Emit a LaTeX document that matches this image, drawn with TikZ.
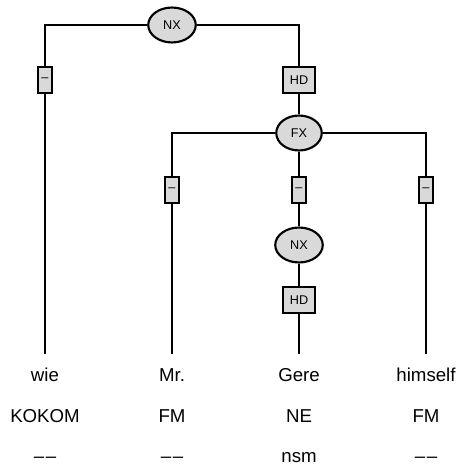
\documentclass[tikz,border=0pt]{standalone}
\usepackage{fontspec}
\setmainfont{Liberation Sans}
\usetikzlibrary{shapes.geometric}

\newcommand{\nomorph}{–\kern1.2pt–}

\begin{document}
\begin{tikzpicture}[x=0.75pt,y=-0.75pt,
  edge/.style={line width=1.2pt},
  cat/.style={draw,line width=1.6pt,ellipse,fill=black!15,inner sep=6pt,font=\fontsize{9.5}{11}\selectfont},
  func/.style={draw,line width=1.6pt,rectangle,fill=black!15,inner sep=5pt,minimum height=19.5pt,font=\fontsize{9.5}{11}\selectfont},
  dashbox/.style={func,inner sep=1pt,minimum width=11pt},
  word/.style={anchor=base,inner sep=0pt,text height=20.25pt,font=\fontsize{14}{16}\selectfont},
  tag/.style={anchor=base,inner sep=0pt,font=\fontsize{14}{16}\selectfont}]
  \useasboundingbox (0,0) rectangle (458,466);
  % tree nodes
  \node (nxtop) at (172,25) [cat] {NX};
  \node (dwie) at (45,80) [dashbox] {–};
  \node (hdtop) at (299,80) [func] {HD};
  \node (fx) at (299,133) [cat] {FX};
  \node (dmr) at (172,190) [dashbox] {–};
  \node (dgere) at (299,190) [dashbox] {–};
  \node (dhim) at (426,190) [dashbox] {–};
  \node (nxlow) at (299,245) [cat] {NX};
  \node (hdlow) at (299,300) [func] {HD};
  % tokens
  \node (wie) at (45,381) [word] {wie};
  \node (mr) at (172,381) [word] {Mr.};
  \node (gere) at (299,381) [word] {Gere};
  \node (himself) at (426,381) [word] {himself};
  \node (poswie) at (45,422) [tag] {KOKOM};
  \node (posmr) at (172,422) [tag] {FM};
  \node (posgere) at (299,422) [tag] {NE};
  \node (poshim) at (426,422) [tag] {FM};
  \node (morwie) at (45,462) [tag] {\nomorph};
  \node (mormr) at (172,462) [tag] {\nomorph};
  \node (morgere) at (299,462) [tag] {nsm};
  \node (morhim) at (426,462) [tag] {\nomorph};
  % edges
  \draw [edge] (nxtop.west) -| (dwie.north);
  \draw [edge] (nxtop.east) -| (hdtop.north);
  \draw [edge] (dwie) -- (wie.north);
  \draw [edge] (hdtop) -- (fx);
  \draw [edge] (fx.west) -| (dmr.north);
  \draw [edge] (fx.east) -| (dhim.north);
  \draw [edge] (fx) -- (dgere);
  \draw [edge] (dmr) -- (mr.north);
  \draw [edge] (dhim) -- (himself.north);
  \draw [edge] (dgere) -- (nxlow) -- (hdlow) -- (gere.north);
\end{tikzpicture}
\end{document}
